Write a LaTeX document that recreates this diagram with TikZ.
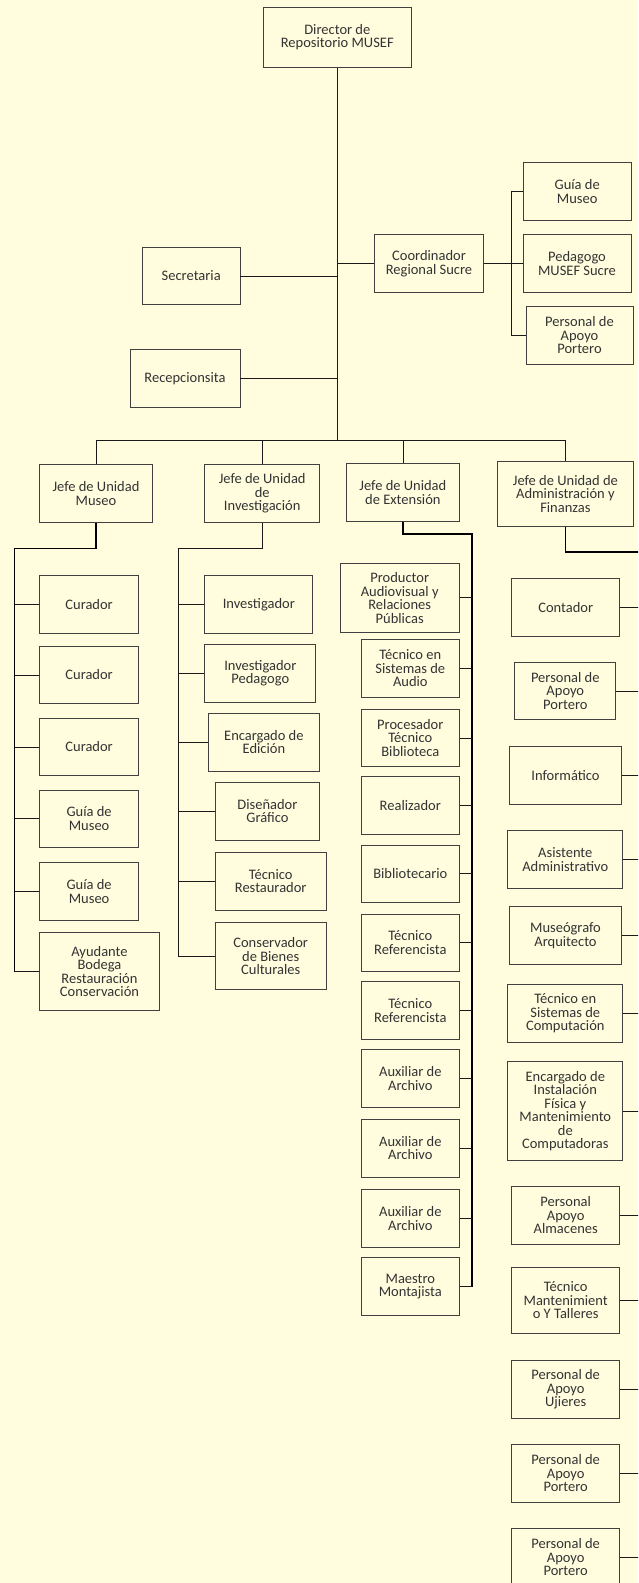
\documentclass[tikz,border=0pt]{standalone}
\usepackage{fontspec}
\setmainfont{Carlito}
\usepackage{tikz}
\definecolor{fondo}{RGB}{255,253,222}

\begin{document}
\begin{tikzpicture}[x=1pt, y=-1pt,
cajanode/.style={rectangle, draw=black!75, fill=fondo, line width=0.9pt, text=black!80, align=center, inner sep=1pt, minimum width=108pt, minimum height=57.5pt, font=\fontsize{14.5}{13.5}\selectfont},
linea/.style={draw=black!90, line width=0.8pt},
lineagruesa/.style={draw=black, line width=1.3pt},
]
\useasboundingbox (0,0) rectangle (638,1583);
\fill[fondo] (0,0) rectangle (638,1583);
\clip (0,0) rectangle (638,1583);

%Nodes
\node[cajanode, minimum width=147.7pt, minimum height=60pt] (dir) at (337.3,37.3) {Director de\\Repositorio MUSEF};
\node[cajanode, minimum width=97.6pt] (sec)   at (191.2,276)   {Secretaria};
\node[cajanode, minimum width=110pt]  (recep) at (185,378.5)   {Recepcionsita};
\node[cajanode, minimum width=109.5pt, minimum height=58pt] (coord) at (429,263.5) {Coordinador\\Regional Sucre};
\node[cajanode] (guiaS) at (577.2,191.5) {Guía de\\Museo};
\node[cajanode] (pedS)  at (577,263.5)   {Pedagogo\\MUSEF Sucre};
\node[cajanode, minimum width=107pt] (portS) at (579.5,335.3) {Personal de\\Apoyo\\Portero};

\node[cajanode, minimum width=112.3pt] (jMus) at (96,493.3)    {Jefe de Unidad\\Museo};
\node[cajanode, minimum width=115pt]   (jInv) at (262.2,493.3) {Jefe de Unidad\\de\\Investigación};
\node[cajanode, minimum width=112.3pt] (jExt) at (402.9,492.5) {Jefe de Unidad\\de Extensión};
\node[cajanode, minimum width=136.5pt, minimum height=64.6pt] (jAdm) at (565.4,494) {Jefe de Unidad de\\Administración y\\Finanzas};

% unidad museo
\node[cajanode, minimum width=98.4pt] (cur1)  at (89.1,604.5) {Curador};
\node[cajanode, minimum width=98.4pt] (cur2)  at (89.1,675)   {Curador};
\node[cajanode, minimum width=98.4pt] (cur3)  at (89.1,747)   {Curador};
\node[cajanode, minimum width=98.4pt] (guia1) at (89.1,818.7) {Guía de\\Museo};
\node[cajanode, minimum width=98.4pt] (guia2) at (89.1,891.5) {Guía de\\Museo};
\node[cajanode, minimum width=119.2pt, minimum height=78.4pt] (ayud) at (99.5,971.5) {Ayudante\\Bodega\\Restauración\\Conservación};

% unidad investigacion
\node[cajanode, minimum width=108.2pt] (inv)    at (258.8,604.5) {Investigador};
\node[cajanode, minimum width=111.1pt] (invPed) at (260.3,673.3) {Investigador\\Pedagogo};
\node[cajanode, minimum width=111.8pt] (edic)   at (263.9,742.2) {Encargado de\\Edición};
\node[cajanode, minimum width=104.8pt, minimum height=58pt] (dis) at (267.4,811) {Diseñador\\Gráfico};
\node[cajanode, minimum width=111.4pt] (rest)   at (270.7,881.3) {Técnico\\Restaurador};
\node[cajanode, minimum width=111.4pt, minimum height=67pt] (cons) at (270.7,956.2) {Conservador\\de Bienes\\Culturales};

% unidad extension
\node[cajanode, minimum width=118.8pt, minimum height=69pt] (prod) at (399.7,597.8) {Productor\\Audiovisual y\\Relaciones\\Públicas};
\node[cajanode, minimum width=97.7pt] (audio) at (410.3,668.5)  {Técnico en\\Sistemas de\\Audio};
\node[cajanode, minimum width=97.7pt] (proc)  at (410.3,738)    {Procesador\\Técnico\\Biblioteca};
\node[cajanode, minimum width=97.7pt] (real)  at (410.3,805.2)  {Realizador};
\node[cajanode, minimum width=97.7pt] (bibl)  at (410.3,873.8)  {Bibliotecario};
\node[cajanode, minimum width=97.7pt] (ref1)  at (410.3,942.7)  {Técnico\\Referencista};
\node[cajanode, minimum width=97.7pt] (ref2)  at (410.3,1010.5) {Técnico\\Referencista};
\node[cajanode, minimum width=97.7pt] (aux1)  at (410.3,1078.5) {Auxiliar de\\Archivo};
\node[cajanode, minimum width=97.7pt] (aux2)  at (410.3,1148.2) {Auxiliar de\\Archivo};
\node[cajanode, minimum width=97.7pt] (aux3)  at (410.3,1218.3) {Auxiliar de\\Archivo};
\node[cajanode, minimum width=97.7pt] (maes)  at (410.3,1286.5) {Maestro\\Montajista};

% unidad administracion
\node[cajanode, minimum width=108.3pt] (cont)    at (565.7,607.2)  {Contador};
\node[cajanode, minimum width=100.9pt] (port1)   at (565.3,691)    {Personal de\\Apoyo\\Portero};
\node[cajanode, minimum width=111.9pt] (inf)     at (565.5,775.5)  {Informático};
\node[cajanode, minimum width=114.8pt] (asis)    at (565.3,859.5)  {Asistente\\Administrativo};
\node[cajanode, minimum width=111.9pt] (museog)  at (565.5,935.5)  {Museógrafo\\Arquitecto};
\node[cajanode, minimum width=114.8pt] (tecComp) at (565.3,1013.2) {Técnico en\\Sistemas de\\Computación};
\node[cajanode, minimum width=114.8pt, minimum height=99pt] (encInst) at (565.3,1111.2) {Encargado de\\Instalación\\Física y\\Mantenimiento\\de\\Computadoras};
\node[cajanode, minimum width=108.3pt] (almac)   at (565.7,1215.3) {Personal\\Apoyo\\Almacenes};
\node[cajanode, minimum width=108.3pt, minimum height=66.3pt] (mant) at (565.7,1300.2) {Técnico\\Mantenimient\\o Y Talleres};
\node[cajanode, minimum width=108.3pt, minimum height=58pt] (ujier) at (565.7,1389.3) {Personal de\\Apoyo\\Ujieres};
\node[cajanode, minimum width=108.3pt, minimum height=58pt] (port2) at (565.7,1473.3) {Personal de\\Apoyo\\Portero};
\node[cajanode, minimum width=108.3pt, minimum height=58pt] (port3) at (565.7,1557.3) {Personal de\\Apoyo\\Portero};

\coordinate (bus) at (337.3,440.7);
\coordinate (brS) at (511,191.5);
\coordinate (brM) at (14.5,548.3);
\coordinate (brI) at (178.3,548.3);
\coordinate (brE) at (472,534);
\coordinate (brA) at (640,552);

%Lines
\draw[linea] (dir.south) -- (bus);
\draw[linea] (sec.east) -- (sec.east -| bus);
\draw[linea] (recep.east) -- (recep.east -| bus);
\draw[linea] (coord.west) -- (coord.west -| bus);
\draw[linea] (coord.east) -- (pedS.west);
\draw[linea] (guiaS.west) -- (brS) -- (brS |- portS.west) -- (portS.west);

\draw[linea] (jMus.north) -- (jMus.north |- bus) -- (jAdm.north |- bus) -- (jAdm.north);
\draw[linea] (jInv.north) -- (jInv.north |- bus);
\draw[linea] (jExt.north) -- (jExt.north |- bus);

\draw[lineagruesa] (jMus.south) |- (brM) -- (brM |- ayud.west);
\foreach \n in {cur1,cur2,cur3,guia1,guia2,ayud}
  \draw[linea] (\n.west) -- (\n.west -| brM);

\draw[linea] (jInv.south) |- (brI) -- (brI |- cons.west);
\foreach \n in {inv,invPed,edic,dis,rest,cons}
  \draw[linea] (\n.west) -- (\n.west -| brI);

\draw[lineagruesa] (jExt.south) |- (brE) -- (brE |- maes.east);
\foreach \n in {prod,audio,proc,real,bibl,ref1,ref2,aux1,aux2,aux3,maes}
  \draw[linea] (\n.east) -- (\n.east -| brE);

\draw[lineagruesa] (jAdm.south) |- (brA) -- (brA |- port3.east);
\foreach \n in {cont,port1,inf,asis,museog,tecComp,encInst,almac,mant,ujier,port2,port3}
  \draw[linea] (\n.east) -- (\n.east -| brA);
\end{tikzpicture}
\end{document}
